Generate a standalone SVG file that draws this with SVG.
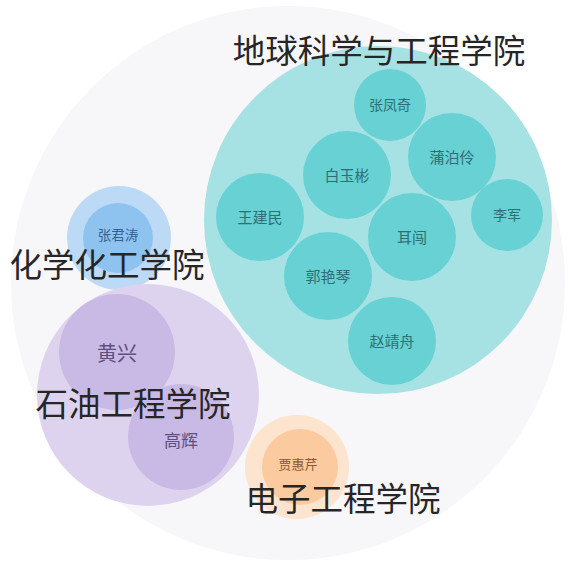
<svg xmlns="http://www.w3.org/2000/svg" width="579" height="563" viewBox="0 0 579 563">
<style>
text{font-family:"Noto Sans CJK SC","Noto Sans",sans-serif;text-anchor:middle;}
.title{font-size:32.5px;fill:#262626;}
.leaf{font-size:14px;}
.teal-o{fill:#a6e2e4;}
.teal-i{fill:#68d1d3;}
.teal-t{fill:#2e6f73;}
.blue-o{fill:#bcdaf6;}
.blue-i{fill:#8ec3f0;}
.blue-t{fill:#35618f;}
.pur-o{fill:#ddd3ef;}
.pur-i{fill:#c9bae5;}
.pur-t{fill:#5e4f80;}
.or-o{fill:#fde4cf;}
.or-i{fill:#fcca9f;}
.or-t{fill:#8a5738;}
</style>
<rect width="579" height="563" fill="#ffffff"/>
<g id="root">
<circle cx="288" cy="283" r="277" fill="#f7f6f9"/>
</g>
<g id="dikexue">
<circle class="teal-o" cx="378" cy="220" r="174"/>
</g>
<g id="zhangfengqi"><circle class="teal-i" cx="390" cy="105" r="36"/><text class="leaf teal-t" x="390" y="110">张凤奇</text></g>
<g id="pubolin"><circle class="teal-i" cx="452" cy="157" r="44"/><text class="leaf teal-t" x="452" y="163" style="font-size:15px">蒲泊伶</text></g>
<g id="baiyubin"><circle class="teal-i" cx="347" cy="175" r="44"/><text class="leaf teal-t" x="347" y="181" style="font-size:15px">白玉彬</text></g>
<g id="lijun"><circle class="teal-i" cx="507" cy="215" r="36"/><text class="leaf teal-t" x="507" y="220">李军</text></g>
<g id="erchuang"><circle class="teal-i" cx="412" cy="237" r="44"/><text class="leaf teal-t" x="412" y="243" style="font-size:15px">耳闯</text></g>
<g id="wangjianmin"><circle class="teal-i" cx="260" cy="217" r="44"/><text class="leaf teal-t" x="260" y="223" style="font-size:15px">王建民</text></g>
<g id="guoyanqin"><circle class="teal-i" cx="328" cy="276" r="44"/><text class="leaf teal-t" x="328" y="282" style="font-size:15px">郭艳琴</text></g>
<g id="zhaojingzhou"><circle class="teal-i" cx="392" cy="341" r="44"/><text class="leaf teal-t" x="392" y="347" style="font-size:15px">赵靖舟</text></g>
<g id="huaxue">
<circle class="blue-o" cx="119" cy="238" r="52"/>
<circle class="blue-i" cx="118" cy="238" r="35"/>
<text class="leaf blue-t" x="118" y="240" style="font-size:13.5px">张君涛</text>
</g>
<g id="shiyou">
<circle class="pur-o" cx="148" cy="395" r="111"/>
<circle class="pur-i" cx="117" cy="352" r="58"/>
<circle class="pur-i" cx="181" cy="437" r="53"/>
<text class="pur-t" x="117" y="361" style="font-size:20px">黄兴</text>
<text class="pur-t" x="181" y="447" style="font-size:17px">高辉</text>
</g>
<g id="dianzi">
<circle class="or-o" cx="297" cy="467" r="52"/>
<circle class="or-i" cx="300" cy="467" r="38"/>
<text class="leaf or-t" x="298" y="469" style="font-size:13px">贾惠芹</text>
</g>
<g id="labels">
<text class="title" x="379" y="63">地球科学与工程学院</text>
<text class="title" x="107" y="277">化学化工学院</text>
<text class="title" x="133" y="416">石油工程学院</text>
<text class="title" x="343" y="511">电子工程学院</text>
</g>
</svg>
